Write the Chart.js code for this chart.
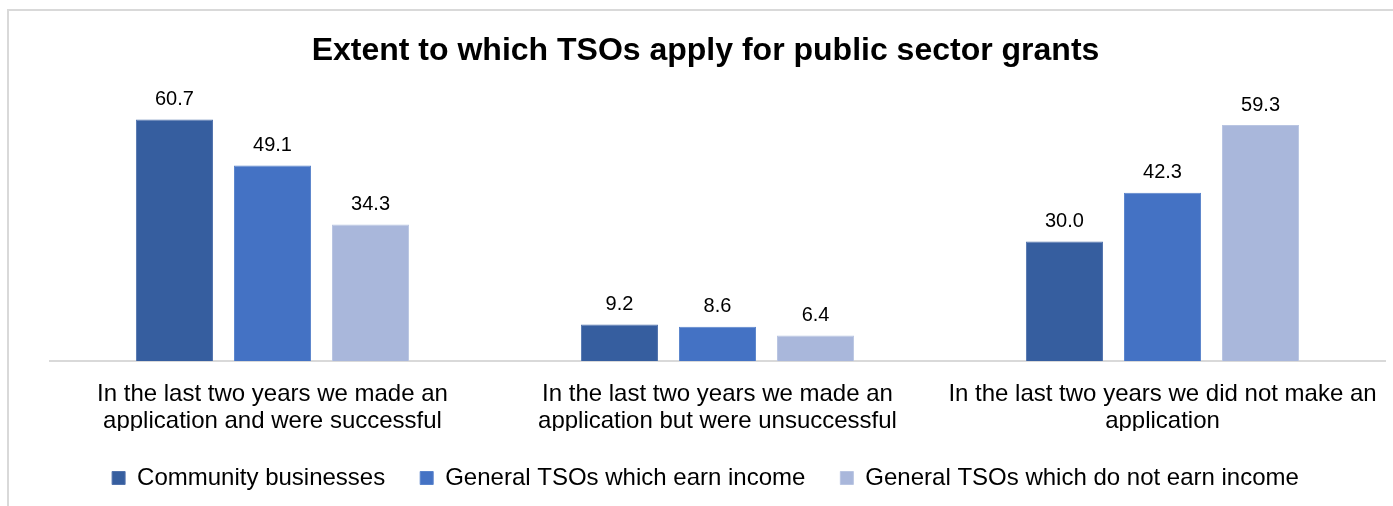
<!DOCTYPE html>
<html>
<head>
<meta charset="utf-8">
<script src="https://cdn.jsdelivr.net/npm/chart.js@4/dist/chart.umd.min.js"></script>
<style>
  body { margin: 0; background: #fff; }
  #wrap { position: relative; width: 1393px; height: 506px; overflow: hidden; }
  #frame { position: absolute; left: 7px; top: 9px; width: 1420px; height: 520px; border: 2px solid #D9D9D9; box-sizing: border-box; }
  #chart { position: absolute; left: 0; top: 0; }
</style>
</head>
<body>
<div id="wrap">
  <div id="frame"></div>
  <canvas id="chart" width="1393" height="506"></canvas>
</div>
<script>
// data ------
var categories = [
    ["In the last two years we made an", "application and were successful"],
    ["In the last two years we made an", "application but were unsuccessful"],
    ["In the last two years we did not make an", "application"]
];
var seriesNames = ["Community businesses", "General TSOs which earn income", "General TSOs which do not earn income"];
var communityBusinesses = [60.7, 9.2, 30.0];
var tsosEarnIncome = [49.1, 8.6, 42.3];
var tsosNoIncome = [34.3, 6.4, 59.3];
var colors = ["#365E9F", "#4472C4", "#A9B7DB"];
var borders = ["#5273AD", "#5A84CC", "#B9C5E2"];

var font = '"Liberation Sans", Arial, sans-serif';

// labels above bars
var barLabels = {
    id: 'barLabels',
    afterDatasetsDraw: function (chart) {
        var ctx = chart.ctx;
        ctx.save();
        ctx.font = '20px ' + font;
        ctx.fillStyle = '#000';
        ctx.textAlign = 'center';
        ctx.textBaseline = 'middle';
        chart.data.datasets.forEach(function (ds, i) {
            chart.getDatasetMeta(i).data.forEach(function (bar, j) {
                ctx.fillText(ds.data[j].toFixed(1), bar.x, bar.y - 20);
            });
        });
        ctx.restore();
    }
};

var datasets = [communityBusinesses, tsosEarnIncome, tsosNoIncome].map(function (d, i) {
    return {
        label: seriesNames[i],
        data: d,
        backgroundColor: colors[i],
        borderColor: borders[i],
        borderWidth: 1,
        categoryPercentage: 0.661,
        barPercentage: 0.786
    };
});

var chart = new Chart(document.getElementById('chart'), {
    type: 'bar',
    data: { labels: categories, datasets: datasets },
    options: {
        responsive: false,
        animation: false,
        layout: {
            padding: { left: 26, right: 8, top: 10, bottom: 6 }
        },
        plugins: {
            title: {
                display: true,
                text: 'Extent to which TSOs apply for public sector grants',
                color: '#000',
                font: { family: font, size: 32, weight: 'bold' },
                padding: { top: 22, bottom: 12 }
            },
            legend: {
                position: 'bottom',
                labels: {
                    color: '#000',
                    boxWidth: 13,
                    boxHeight: 13,
                    padding: 35,
                    font: { family: font, size: 24 }
                }
            },
            tooltip: { enabled: false }
        },
        scales: {
            x: {
                grid: { display: false },
                border: { color: '#D9D9D9', width: 2 },
                ticks: {
                    color: '#000',
                    maxRotation: 0,
                    padding: 12,
                    font: { family: font, size: 24, lineHeight: 1.125 }
                },
                // let the labels run into the legend's top padding
                afterFit: function (scale) { scale.height -= 16; }
            },
            y: {
                min: 0,
                max: 70,
                grid: { display: false },
                border: { display: false },
                ticks: { display: false },
                afterFit: function (scale) { scale.width = 24; }
            }
        }
    },
    plugins: [barLabels]
});
</script>
</body>
</html>
